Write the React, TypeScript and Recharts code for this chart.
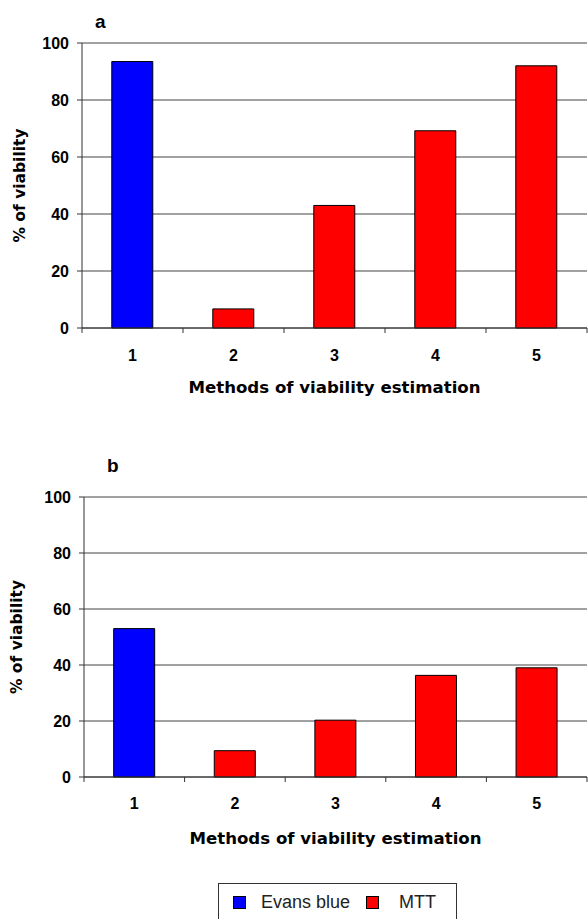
import { BarChart, Bar, XAxis, YAxis, CartesianGrid, Legend } from "recharts";

const methods = ["1", "2", "3", "4", "5"];
const evansA = [93.5, null, null, null, null];
const mttA = [null, 6.7, 43.0, 69.2, 92.0];
const evansB = [53.0, null, null, null, null];
const mttB = [null, 9.4, 20.3, 36.3, 39.0];
const yTicks = [0, 20, 40, 60, 80, 100];
const seriesNames = { evans: "Evans blue", mtt: "MTT" };

const rows = (evans: (number | null)[], mtt: (number | null)[]) =>
  methods.map((m, i) => ({ method: m, evans: evans[i], mtt: mtt[i] }));

const tickFont = {
  fontFamily: "'Liberation Sans', Arial, sans-serif",
  fontWeight: 700,
  fontSize: 16,
  fill: "#000",
};

// category label plus the small tick marks that sit on the band edges
function CatTick({ x, y, payload, gap }: any) {
  const off = payload.offset ?? 50;
  const last = payload.value === methods[methods.length - 1];
  return (
    <g>
      <line x1={x - off} x2={x - off} y1={y} y2={y + 5} stroke="#333" />
      {last && <line x1={x + off} x2={x + off} y1={y} y2={y + 5} stroke="#333" />}
      <text x={x} y={y + gap} dy="0.71em" textAnchor="middle" style={tickFont} fill="#000">
        {payload.value}
      </text>
    </g>
  );
}

function YTitle({ viewBox, cx }: any) {
  const y = viewBox.y + viewBox.height / 2;
  return (
    <text
      x={cx}
      y={y}
      transform={`rotate(-90, ${cx}, ${y})`}
      textAnchor="middle"
      dominantBaseline="central"
      style={{ fontFamily: "'DejaVu Sans', Verdana, sans-serif", fontWeight: 700, fontSize: 15.5 }}
      fill="#000"
    >
      % of viability
    </text>
  );
}

function XTitle({ viewBox, dy }: any) {
  return (
    <text
      x={viewBox.x + viewBox.width / 2}
      y={viewBox.y + dy}
      textAnchor="middle"
      style={{ fontFamily: "'DejaVu Sans', Verdana, sans-serif", fontWeight: 700, fontSize: 16.6 }}
      fill="#000"
    >
      Methods of viability estimation
    </text>
  );
}

function LegendBox({ payload }: any) {
  return (
    <div
      style={{
        boxSizing: "border-box",
        height: 36,
        borderTop: "1px solid #333",
        borderLeft: "1px solid #333",
        borderRight: "1px solid #333",
        display: "flex",
        alignItems: "center",
        paddingLeft: 14,
        paddingTop: 2,
        fontFamily: "'Liberation Sans', Arial, sans-serif",
        fontSize: 18,
        color: "#222",
      }}
    >
      {(payload || []).map((p: any, i: number) => (
        <span key={p.value} style={{ display: "flex", alignItems: "center", marginRight: 16 }}>
          <span
            style={{
              width: 11,
              height: 11,
              background: p.color,
              border: "1px solid #000",
              marginRight: i === 0 ? 15 : 20,
            }}
          />
          {p.value}
        </span>
      ))}
    </div>
  );
}

type PanelProps = {
  data: any[];
  height: number;
  top: number;
  yWidth: number;
  xHeight: number;
  bottom: number;
  tickGap: number;
  titleDy: number;
  labelX: number;
  borderColor: string;
  legend?: boolean;
};

function Panel(p: PanelProps) {
  return (
    <BarChart
      width={588}
      height={p.height}
      data={p.data}
      margin={{ top: p.top, right: 1, left: 0, bottom: p.bottom }}
      barCategoryGap="29.5%"
    >
      <CartesianGrid yAxisId="l" vertical={false} stroke="#444" />
      <XAxis
        dataKey="method"
        height={p.xHeight}
        tickLine={false}
        tickSize={0}
        tickMargin={0}
        axisLine={{ stroke: "#333" }}
        tick={<CatTick gap={p.tickGap} />}
        label={<XTitle dy={p.titleDy} />}
      />
      <YAxis
        yAxisId="l"
        width={p.yWidth}
        domain={[0, 100]}
        ticks={yTicks}
        tickSize={5}
        tickMargin={8}
        axisLine={{ stroke: "#333" }}
        tickLine={{ stroke: "#333" }}
        tick={tickFont}
        label={<YTitle cx={p.labelX} />}
      />
      <YAxis
        yAxisId="r"
        orientation="right"
        width={0}
        domain={[0, 100]}
        tick={false}
        tickLine={false}
        axisLine={{ stroke: p.borderColor }}
      />
      {p.legend && (
        <Legend
          verticalAlign="bottom"
          content={<LegendBox />}
          wrapperStyle={{ left: 218, bottom: 0, width: 239 }}
        />
      )}
      <Bar
        yAxisId="l"
        dataKey="evans"
        name={seriesNames.evans}
        stackId="s"
        fill="#0000ff"
        stroke="#000"
        isAnimationActive={false}
      />
      <Bar
        yAxisId="l"
        dataKey="mtt"
        name={seriesNames.mtt}
        stackId="s"
        fill="#ff0000"
        stroke="#000"
        isAnimationActive={false}
      />
    </BarChart>
  );
}

const letterStyle: React.CSSProperties = {
  position: "absolute",
  fontFamily: "'Liberation Sans', Arial, sans-serif",
  fontWeight: 700,
  fontSize: 19,
  lineHeight: "19px",
};

export default function App() {
  return (
    <div style={{ position: "absolute", left: 0, top: 0, width: 588, height: 919, background: "#fff", overflow: "hidden" }}>
      <div style={{ position: "absolute", left: 0, top: 0 }}>
        <Panel
          data={rows(evansA, mttA)}
          height={420}
          top={43}
          yWidth={82}
          xHeight={72}
          bottom={20}
          tickGap={22}
          titleDy={65}
          labelX={20}
          borderColor="#aaa"
        />
      </div>
      <div style={{ ...letterStyle, left: 95, top: 12 }}>a</div>
      <div style={{ position: "absolute", left: 0, top: 440 }}>
        <Panel
          data={rows(evansB, mttB)}
          height={479}
          top={57}
          yWidth={84}
          xHeight={106}
          bottom={0}
          tickGap={21}
          titleDy={67}
          labelX={17}
          borderColor="#333"
          legend
        />
      </div>
      <div style={{ ...letterStyle, left: 107, top: 456 }}>b</div>
    </div>
  );
}
